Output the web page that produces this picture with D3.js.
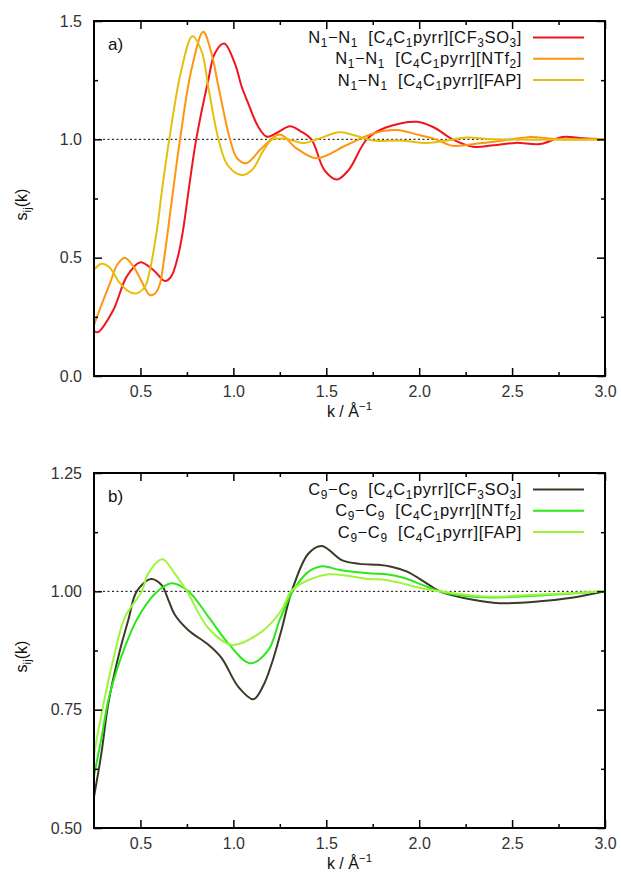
<!DOCTYPE html>
<html>
<head>
<meta charset="utf-8">
<script src="https://cdn.jsdelivr.net/npm/d3@7"></script>
<style>
  body { margin: 0; background: #fff; }
  text { font-family: "Liberation Sans", Arial, Helvetica, sans-serif; white-space: pre; }
</style>
</head>
<body>
<svg id="chart" width="621" height="886"></svg>
<script>
// ---- data ----
const kDomain = [0.25, 3.0];
const kMajor = [0.5, 1.0, 1.5, 2.0, 2.5, 3.0];
const kMinor = [0.75, 1.25, 1.75, 2.25, 2.75];

// panel a) N1-N1
const aTicks = [0.0, 0.5, 1.0, 1.5];
const aMinor = [0.25, 0.75, 1.25];
const aLabels = ['N_{1}−N_{1}  [C_{4}C_{1}pyrr][CF_{3}SO_{3}]', 'N_{1}−N_{1}  [C_{4}C_{1}pyrr][NTf_{2}]', 'N_{1}−N_{1}  [C_{4}C_{1}pyrr][FAP]'];
const aColors = ['#f0141e', '#ff9510', '#e5bf0e'];

const kN1Cf3 = [0.25,0.27,0.354,0.426,0.497,0.569,0.632,0.665,0.70,0.73,0.757,0.80,0.865,0.90,0.95,1.008,1.045,1.08,1.134,1.18,1.24,1.305,1.36,1.42,1.49,1.557,1.62,1.718,1.82,1.987,2.08,2.18,2.29,2.40,2.52,2.65,2.77,2.88,3.0];
const sN1Cf3 = [0.19,0.185,0.279,0.42,0.48,0.448,0.401,0.42,0.50,0.62,0.772,1.00,1.25,1.363,1.405,1.321,1.222,1.152,1.053,1.011,1.03,1.055,1.035,1.0,0.87,0.83,0.87,1.0,1.05,1.074,1.05,1.0,0.969,0.975,0.985,0.98,1.01,1.005,1.0];

const kN1Ntf = [0.25,0.29,0.336,0.375,0.415,0.46,0.50,0.55,0.58,0.605,0.628,0.67,0.713,0.774,0.838,0.88,0.92,0.982,1.02,1.07,1.15,1.25,1.34,1.448,1.61,1.754,1.88,2.0,2.09,2.18,2.325,2.5,2.6,2.75,3.0];
const sN1Ntf = [0.215,0.30,0.392,0.47,0.50,0.465,0.41,0.342,0.35,0.39,0.50,0.75,1.0,1.293,1.455,1.37,1.222,1.0,0.92,0.899,0.96,1.02,0.962,0.92,0.976,1.025,1.039,1.018,1.0,0.973,0.983,1.0,1.01,1.0,1.0];

const kN1Fap = [0.25,0.29,0.33,0.39,0.44,0.478,0.524,0.551,0.575,0.596,0.615,0.655,0.72,0.78,0.83,0.865,0.92,0.97,1.045,1.10,1.16,1.21,1.26,1.32,1.375,1.45,1.57,1.66,1.75,1.90,2.04,2.15,2.256,2.40,3.0];
const sN1Fap = [0.448,0.474,0.462,0.392,0.355,0.349,0.377,0.448,0.55,0.659,0.78,1.0,1.293,1.436,1.37,1.222,1.0,0.89,0.849,0.87,0.95,1.0,1.003,0.995,0.984,1.0,1.03,1.015,0.995,0.995,0.985,0.995,1.008,1.0,1.0];

// panel b) C9-C9
const bTicks = [0.50, 0.75, 1.00, 1.25];
const bMinor = [0.625, 0.875, 1.125];
const bLabels = ['C_{9}−C_{9}  [C_{4}C_{1}pyrr][CF_{3}SO_{3}]', 'C_{9}−C_{9}  [C_{4}C_{1}pyrr][NTf_{2}]', 'C_{9}−C_{9}  [C_{4}C_{1}pyrr][FAP]'];
const bColors = ['#3b3a28', '#2ee81a', '#9ef53c'];

const kC9Cf3 = [0.25,0.29,0.327,0.381,0.435,0.48,0.557,0.614,0.65,0.686,0.758,0.866,0.937,1.027,1.108,1.16,1.207,1.26,1.314,1.404,1.476,1.583,1.68,1.78,1.85,1.932,2.04,2.11,2.29,2.43,2.65,2.83,3.0];
const sC9Cf3 = [0.566,0.658,0.763,0.862,0.94,1.0,1.026,1.013,0.982,0.95,0.918,0.887,0.859,0.798,0.772,0.80,0.848,0.92,1.0,1.08,1.096,1.066,1.058,1.056,1.052,1.042,1.017,1.0,0.982,0.975,0.979,0.987,1.0];

const kC9Ntf = [0.25,0.29,0.327,0.37,0.417,0.48,0.578,0.668,0.758,0.866,0.973,1.09,1.188,1.25,1.32,1.40,1.476,1.574,1.726,1.825,1.92,2.02,2.11,2.25,2.38,2.6,2.8,3.0];
const sC9Ntf = [0.61,0.69,0.77,0.83,0.883,0.94,0.995,1.017,1.0,0.946,0.89,0.848,0.876,0.94,1.0,1.04,1.053,1.045,1.038,1.036,1.028,1.013,1.0,0.99,0.987,0.99,0.995,1.0];

const kC9Fap = [0.25,0.29,0.35,0.417,0.507,0.542,0.618,0.68,0.75,0.866,0.992,1.153,1.26,1.31,1.404,1.512,1.574,1.726,1.825,2.02,2.11,2.35,2.6,3.0];
const sC9Fap = [0.655,0.74,0.85,0.946,1.0,1.038,1.068,1.04,1.0,0.922,0.887,0.915,0.961,1.0,1.024,1.036,1.035,1.026,1.024,1.006,1.0,0.989,0.992,1.0];

// ---- drawing ----
const svg = d3.select('#chart');
const left = 94, right = 605;

// writes "a_{b}" / "a^{b}" as tspans
function rich(t, str, fs) {
  const re = /([_^])\{([^}]*)\}/g;
  let last = 0, shift = 0, m;
  const add = (s, mode) => {
    const target = mode === '_' ? fs * 0.25 : mode === '^' ? -fs * 0.42 : 0;
    t.append('tspan').attr('dy', target - shift).attr('font-size', mode ? fs * 0.72 : fs).text(s);
    shift = target;
  };
  while ((m = re.exec(str))) {
    if (m.index > last) add(str.slice(last, m.index), null);
    add(m[2], m[1]);
    last = re.lastIndex;
  }
  if (last < str.length) add(str.slice(last), null);
}

function panel(p) {
  const g = svg.append('g');
  const x = d3.scaleLinear().domain(kDomain).range([left, right]);
  const y = d3.scaleLinear().domain(p.yDomain).range([p.bottom, p.top]);

  // reference line at 1
  g.append('line')
    .attr('x1', x(kDomain[0])).attr('x2', x(kDomain[1]))
    .attr('y1', y(1)).attr('y2', y(1))
    .attr('stroke', '#000').attr('stroke-width', 1)
    .attr('stroke-dasharray', '2,2.5');

  const line = d3.line()
    .x(d => x(d[0]))
    .y(d => y(d[1]))
    .curve(d3.curveCatmullRom.alpha(0.5));

  p.series.forEach((s, i) => {
    g.append('path')
      .datum(d3.zip(s.k, s.v))
      .attr('d', line)
      .attr('fill', 'none')
      .attr('stroke', p.colors[i])
      .attr('stroke-width', 2);
  });

  // axes, ticks inward on all sides
  const tickStyle = sel => {
    sel.select('.domain').remove();
    sel.selectAll('line').attr('stroke', '#000').attr('stroke-width', 1.5);
    sel.selectAll('text').attr('fill', '#333').attr('font-size', 16)
      .attr('font-family', '"Liberation Sans", Arial, sans-serif');
  };
  g.append('g').attr('transform', `translate(0,${p.bottom})`)
    .call(d3.axisBottom(x).tickValues(kMajor).tickFormat(d3.format('.1f')).tickSizeInner(-8).tickSizeOuter(0).tickPadding(10))
    .call(tickStyle);
  g.append('g').attr('transform', `translate(0,${p.bottom})`)
    .call(d3.axisBottom(x).tickValues(kMinor).tickFormat('').tickSizeInner(-4).tickSizeOuter(0))
    .call(tickStyle);
  g.append('g').attr('transform', `translate(0,${p.top})`)
    .call(d3.axisTop(x).tickValues(kMajor).tickFormat('').tickSizeInner(-8).tickSizeOuter(0))
    .call(tickStyle);
  g.append('g').attr('transform', `translate(0,${p.top})`)
    .call(d3.axisTop(x).tickValues(kMinor).tickFormat('').tickSizeInner(-4).tickSizeOuter(0))
    .call(tickStyle);
  g.append('g').attr('transform', `translate(${left},0)`)
    .call(d3.axisLeft(y).tickValues(p.ticks).tickFormat(d3.format(p.fmt)).tickSizeInner(-8).tickSizeOuter(0).tickPadding(12))
    .call(tickStyle);
  g.append('g').attr('transform', `translate(${left},0)`)
    .call(d3.axisLeft(y).tickValues(p.minor).tickFormat('').tickSizeInner(-4).tickSizeOuter(0))
    .call(tickStyle);
  g.append('g').attr('transform', `translate(${right},0)`)
    .call(d3.axisRight(y).tickValues(p.ticks).tickFormat('').tickSizeInner(-8).tickSizeOuter(0))
    .call(tickStyle);
  g.append('g').attr('transform', `translate(${right},0)`)
    .call(d3.axisRight(y).tickValues(p.minor).tickFormat('').tickSizeInner(-4).tickSizeOuter(0))
    .call(tickStyle);

  g.append('rect')
    .attr('x', left).attr('y', p.top)
    .attr('width', right - left).attr('height', p.bottom - p.top)
    .attr('fill', 'none').attr('stroke', '#000').attr('stroke-width', 2);

  // panel tag
  g.append('text').attr('x', 108).attr('y', p.top + 29)
    .attr('font-size', 17).attr('fill', '#111').text(p.tag);

  // legend
  p.labels.forEach((lab, i) => {
    const ly = p.top + 16.5 + i * 21.3;
    rich(g.append('text').attr('x', 522).attr('y', ly + 5.5)
      .attr('text-anchor', 'end').attr('fill', '#111').attr('letter-spacing', 0.6), lab, 16.5);
    g.append('line').attr('x1', 533).attr('x2', 584).attr('y1', ly).attr('y2', ly)
      .attr('stroke', p.colors[i]).attr('stroke-width', 2);
  });

  // axis titles
  rich(g.append('text')
    .attr('transform', `translate(27,${(p.top + p.bottom) / 2 + 6}) rotate(-90)`)
    .attr('text-anchor', 'middle').attr('fill', '#111'), 's_{ij}(k)', 16);
  rich(g.append('text')
    .attr('x', (left + right) / 2).attr('y', p.bottom + 41)
    .attr('text-anchor', 'middle').attr('fill', '#111'), 'k / Å^{−1}', 16);
}

panel({
  top: 21, bottom: 376, yDomain: [0, 1.5], ticks: aTicks, minor: aMinor, fmt: '.1f',
  tag: 'a)', labels: aLabels, colors: aColors,
  series: [{ k: kN1Cf3, v: sN1Cf3 }, { k: kN1Ntf, v: sN1Ntf }, { k: kN1Fap, v: sN1Fap }]
});
panel({
  top: 473, bottom: 828, yDomain: [0.5, 1.25], ticks: bTicks, minor: bMinor, fmt: '.2f',
  tag: 'b)', labels: bLabels, colors: bColors,
  series: [{ k: kC9Cf3, v: sC9Cf3 }, { k: kC9Ntf, v: sC9Ntf }, { k: kC9Fap, v: sC9Fap }]
});
</script>
</body>
</html>
